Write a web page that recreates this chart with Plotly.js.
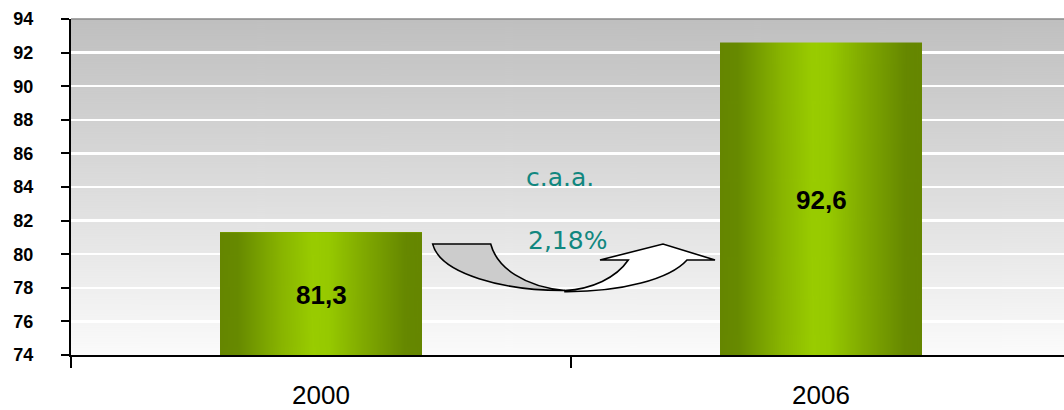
<!DOCTYPE html>
<html>
<head>
<meta charset="utf-8">
<script src="https://cdn.plot.ly/plotly-3.0.1.min.js"></script>
<style>html,body{margin:0;padding:0;overflow:hidden;background:#fff}</style>
</head>
<body>
<div id="chart" style="width:1064px;height:410px"></div>
<script>
// ---- data ----
const categories = ['2000', '2006'];
const values = [81.3, 92.6];
const valueLabels = ['81,3', '92,6'];
const yTickVals = [74, 76, 78, 80, 82, 84, 86, 88, 90, 92, 94];
const growthTitle = 'c.a.a.';
const growthRate = '2,18%';

// ---- geometry ----
const W = 1064, H = 410;
const M = {l: 71, r: 0, t: 19, b: 55};
const yRange = [74, 94];
const xRange = [-0.5, 1.486];
const barWidth = 0.404;
const plotW = W - M.l - M.r, plotH = H - M.t - M.b;

function xPaper(v) { return (v - xRange[0]) / (xRange[1] - xRange[0]); }
function yPaper(v) { return (v - yRange[0]) / (yRange[1] - yRange[0]); }
// pixel -> paper helpers for decorative arrow
function px(x) { return ((x - M.l) / plotW).toFixed(5); }
function py(y) { return ((M.t + plotH - y) / plotH).toFixed(5); }

function gradientURL(w, h, horizontal, stops) {
  const c = document.createElement('canvas');
  c.width = w; c.height = h;
  const ctx = c.getContext('2d');
  const g = horizontal ? ctx.createLinearGradient(0, 0, w, 0) : ctx.createLinearGradient(0, 0, 0, h);
  stops.forEach(s => g.addColorStop(s[0], s[1]));
  ctx.fillStyle = g;
  ctx.fillRect(0, 0, w, h);
  return c.toDataURL('image/png');
}

const bgURL = gradientURL(8, 336, false, [[0, '#bfbfbf'], [0.5, '#dcdcdc'], [1, '#fbfbfb']]);
const barURL = gradientURL(200, 8, true, [
  [0, '#658600'], [0.09, '#678a00'], [0.3, '#88b400'], [0.46, '#99cc00'],
  [0.54, '#96c900'], [0.72, '#7fa800'], [0.92, '#668800'], [1, '#658600']
]);

const images = [{
  source: bgURL, xref: 'paper', yref: 'paper', x: 0, y: 1, sizex: 1, sizey: 1,
  xanchor: 'left', yanchor: 'top', sizing: 'stretch', layer: 'below'
}];
categories.forEach((c, i) => {
  images.push({
    source: barURL, xref: 'paper', yref: 'paper',
    x: xPaper(i - barWidth / 2), y: yPaper(values[i]),
    sizex: xPaper(i + barWidth / 2) - xPaper(i - barWidth / 2),
    sizey: yPaper(values[i]) - yPaper(yRange[0]),
    xanchor: 'left', yanchor: 'top', sizing: 'stretch', layer: 'above'
  });
});

const annotations = categories.map((c, i) => ({
  x: xPaper(i), y: yPaper((values[i] + yRange[0]) / 2) - 0.004, xref: 'paper', yref: 'paper',
  text: '<b>' + valueLabels[i] + '</b>', showarrow: false,
  xanchor: 'center', yanchor: 'middle',
  font: {family: 'Liberation Sans, Arial, sans-serif', size: 26, color: '#000000'}
}));
annotations.push({
  xref: 'paper', yref: 'paper', x: +px(560), y: +py(177), text: growthTitle, showarrow: false,
  font: {family: 'DejaVu Sans, Verdana, sans-serif', size: 25, color: '#11877f'}
});
annotations.push({
  xref: 'paper', yref: 'paper', x: +px(567), y: +py(240), text: growthRate, showarrow: false,
  font: {family: 'DejaVu Sans, Verdana, sans-serif', size: 25, color: '#11877f'}
});

const grayPath = `M ${px(432.7)},${py(244)} L ${px(490.7)},${py(244)} ` +
  `C ${px(497)},${py(268)} ${px(525)},${py(287)} ${px(565)},${py(290.5)} ` +
  `C ${px(505)},${py(291)} ${px(440)},${py(274)} ${px(432.7)},${py(244)} Z`;
const whitePath = `M ${px(565)},${py(291.7)} ` +
  `C ${px(622)},${py(292)} ${px(670)},${py(279)} ${px(687)},${py(260)} ` +
  `L ${px(715)},${py(260)} L ${px(663)},${py(244)} L ${px(600)},${py(260)} L ${px(628.3)},${py(260)} ` +
  `C ${px(616)},${py(278)} ${px(592)},${py(289)} ${px(565)},${py(290.5)} Z`;

const shapes = [
  {type: 'line', xref: 'paper', yref: 'paper', x0: 0, x1: 1, y0: 1, y1: 1,
   line: {color: '#8a8a8a', width: 1.5}, layer: 'above'},
  {type: 'path', xref: 'paper', yref: 'paper', path: grayPath,
   fillcolor: '#cccccc', line: {color: '#000', width: 1.6}, layer: 'above'},
  {type: 'path', xref: 'paper', yref: 'paper', path: whitePath,
   fillcolor: '#ffffff', line: {color: '#000', width: 1.6}, layer: 'above'}
];

const trace = {
  type: 'bar', x: categories, y: values, width: barWidth,
  marker: {color: '#88b400', line: {width: 0}},
  hoverinfo: 'skip', showlegend: false
};

const layout = {
  width: W, height: H,
  margin: M,
  paper_bgcolor: '#ffffff',
  plot_bgcolor: 'rgba(0,0,0,0)',
  showlegend: false,
  bargap: 0,
  xaxis: {
    type: 'category', range: xRange, fixedrange: true,
    showline: true, linecolor: '#000', linewidth: 2,
    ticks: 'outside', tickson: 'boundaries', ticklen: 11, tickwidth: 2, tickcolor: '#000',
    showgrid: false, zeroline: false,
    ticklabelstandoff: 16,
    tickfont: {family: 'Liberation Sans, Arial, sans-serif', size: 26, color: '#000'}
  },
  yaxis: {
    range: yRange, fixedrange: true,
    tickvals: yTickVals, ticktext: yTickVals.map(String),
    showline: true, linecolor: '#000', linewidth: 2,
    ticks: 'outside', ticklen: 8, tickwidth: 2, tickcolor: '#000',
    showgrid: true, gridcolor: '#ffffff', gridwidth: 2.5, zeroline: false,
    ticklabelstandoff: 24,
    tickfont: {family: 'Liberation Sans, Arial, sans-serif', size: 18, color: '#000', weight: 'bold'}
  },
  images: images,
  shapes: shapes,
  annotations: annotations
};

Plotly.newPlot('chart', [trace], layout, {displayModeBar: false, staticPlot: true});
</script>
</body>
</html>
